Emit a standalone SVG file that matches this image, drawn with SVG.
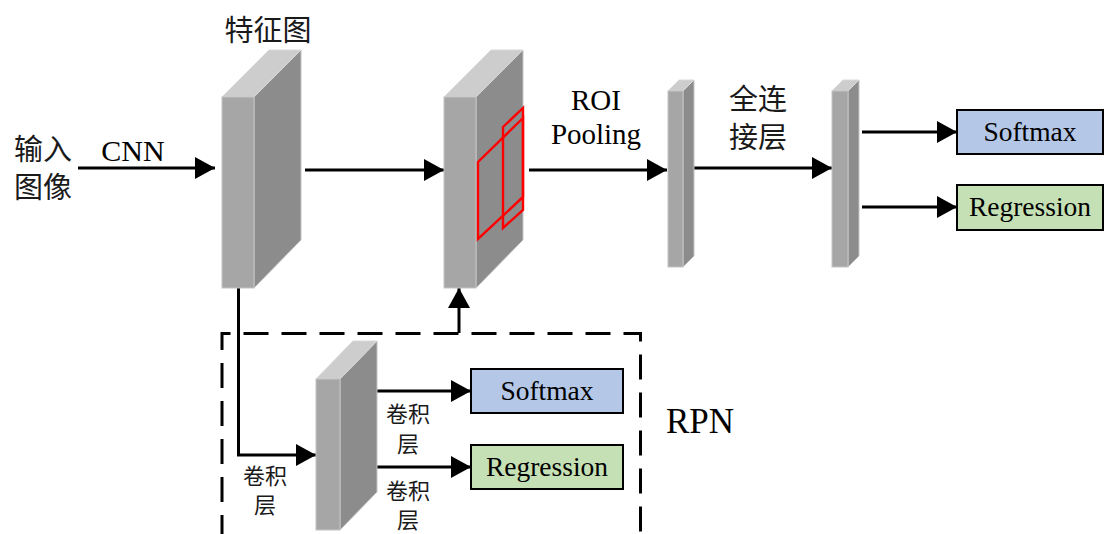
<svg xmlns="http://www.w3.org/2000/svg" width="1105" height="534" viewBox="0 0 1105 534">
  <style>
    .front { fill: #a6a6a6; stroke: #c4c4c4; stroke-width: 1; }
    .side { fill: #8c8c8c; stroke: #c4c4c4; stroke-width: 1; }
    .top { fill: #cdcdcd; stroke: #d8d8d8; stroke-width: 1; }
    .roi { fill: none; stroke: #ff0000; stroke-width: 2.4; }
    .line { fill: none; stroke: #000; stroke-width: 3; }
    .dash { fill: none; stroke: #000; stroke-width: 3; stroke-dasharray: 25 13; }
    .box { stroke: #000; stroke-width: 2; }
    .en { font-family: "Liberation Serif", "DejaVu Serif", "Times New Roman", serif; fill: #000; }
    .zh { font-family: "Noto Sans CJK SC", "Noto Sans", sans-serif; fill: #1a1a1a; }
  </style>
  <defs>
    <marker id="arrow" markerUnits="userSpaceOnUse" markerWidth="22" markerHeight="24" refX="20" refY="11" orient="auto">
      <path d="M0,0 L20,11 L0,22 Z" fill="#000"/>
    </marker>
  </defs>

  <!-- connectors -->
  <g id="connectors">
    <line class="line" x1="78" y1="168" x2="215" y2="168" marker-end="url(#arrow)"/>
    <line class="line" x1="305" y1="170" x2="444" y2="170" marker-end="url(#arrow)"/>
    <line class="line" x1="529" y1="170" x2="667" y2="170" marker-end="url(#arrow)"/>
    <line class="line" x1="694" y1="168" x2="832" y2="168" marker-end="url(#arrow)"/>
    <line class="line" x1="862" y1="132" x2="957" y2="132" marker-end="url(#arrow)"/>
    <line class="line" x1="862" y1="207" x2="957" y2="207" marker-end="url(#arrow)"/>
    <polyline class="line" points="238.5,288 238.5,455 316,455" marker-end="url(#arrow)"/>
    <line class="line" x1="459" y1="333" x2="459" y2="288" marker-end="url(#arrow)"/>
    <line class="line" x1="377" y1="391" x2="471" y2="391" marker-end="url(#arrow)"/>
    <line class="line" x1="377" y1="467" x2="471" y2="467" marker-end="url(#arrow)"/>
  </g>

  <!-- RPN region outline (open at the bottom) -->
  <g id="rpn-frame">
    <polyline class="dash" points="222,540 222,333.5 640.5,333.5 640.5,540"/>
    <text class="en" x="700" y="433" font-size="35" text-anchor="middle">RPN</text>
  </g>

  <!-- input label -->
  <g id="input">
    <text class="zh" x="43" y="147" font-size="29" text-anchor="middle" dominant-baseline="central">输入</text>
    <text class="zh" x="43" y="185" font-size="29" text-anchor="middle" dominant-baseline="central">图像</text>
    <text class="en" x="133" y="161" font-size="30" text-anchor="middle">CNN</text>
  </g>

  <!-- feature map -->
  <g id="feature-map">
    <polygon class="side" points="254,97 301,50 301,240 254,288"/>
    <polygon class="top" points="222,97 269,50 301,50 254,97"/>
    <rect class="front" x="222" y="97" width="32" height="191"/>
    <text class="zh" x="268" y="28" font-size="29" text-anchor="middle" dominant-baseline="central">特征图</text>
  </g>

  <!-- feature map with proposals -->
  <g id="proposal-map">
    <polygon class="side" points="476,97 523,50 523,240 476,288"/>
    <polygon class="top" points="444,97 491,50 523,50 476,97"/>
    <rect class="front" x="444" y="97" width="32" height="191"/>
    <polygon class="roi" points="478,162 523,118 523,197 478,239"/>
    <polygon class="roi" points="503,127 523,108 523,210 503,228"/>
  </g>

  <!-- ROI pooling output -->
  <g id="roi-pooling">
    <text class="en" x="596" y="110" font-size="29" text-anchor="middle">ROI</text>
    <text class="en" x="596" y="144" font-size="29" text-anchor="middle">Pooling</text>
    <polygon class="side" points="683,91 694,80 694,256 683,267"/>
    <polygon class="top" points="668,91 679,80 694,80 683,91"/>
    <rect class="front" x="668" y="91" width="15" height="176"/>
  </g>

  <!-- fully connected -->
  <g id="fc">
    <text class="zh" x="758" y="97" font-size="29" text-anchor="middle" dominant-baseline="central">全连</text>
    <text class="zh" x="758" y="135" font-size="29" text-anchor="middle" dominant-baseline="central">接层</text>
    <polygon class="side" points="848,91 859,80 859,256 848,267"/>
    <polygon class="top" points="832,91 843,80 859,80 848,91"/>
    <rect class="front" x="832" y="91" width="16" height="176"/>
  </g>

  <!-- head outputs -->
  <g id="head-softmax">
    <rect class="box" x="957" y="110" width="146" height="44" fill="#b4c7e7"/>
    <text class="en" x="1030" y="141" font-size="27.5" text-anchor="middle">Softmax</text>
  </g>
  <g id="head-regression">
    <rect class="box" x="957" y="185" width="146" height="45" fill="#c5e0b4"/>
    <text class="en" x="1030" y="216" font-size="27.5" text-anchor="middle">Regression</text>
  </g>

  <!-- RPN conv layer -->
  <g id="rpn-conv">
    <polygon class="side" points="340,379 377,341 377,492 340,530"/>
    <polygon class="top" points="316,379 353,341 377,341 340,379"/>
    <rect class="front" x="316" y="379" width="24" height="151"/>
    <text class="zh" x="265" y="474" font-size="22" text-anchor="middle" dominant-baseline="central">卷积</text>
    <text class="zh" x="265" y="503" font-size="22" text-anchor="middle" dominant-baseline="central">层</text>
    <text class="zh" x="408" y="412" font-size="22" text-anchor="middle" dominant-baseline="central">卷积</text>
    <text class="zh" x="408" y="442" font-size="22" text-anchor="middle" dominant-baseline="central">层</text>
    <text class="zh" x="408" y="489" font-size="22" text-anchor="middle" dominant-baseline="central">卷积</text>
    <text class="zh" x="408" y="518" font-size="22" text-anchor="middle" dominant-baseline="central">层</text>
  </g>

  <!-- RPN outputs -->
  <g id="rpn-softmax">
    <rect class="box" x="471" y="369" width="152" height="44" fill="#b4c7e7"/>
    <text class="en" x="547" y="400" font-size="27.5" text-anchor="middle">Softmax</text>
  </g>
  <g id="rpn-regression">
    <rect class="box" x="471" y="445" width="152" height="44" fill="#c5e0b4"/>
    <text class="en" x="547" y="476" font-size="27.5" text-anchor="middle">Regression</text>
  </g>
</svg>
